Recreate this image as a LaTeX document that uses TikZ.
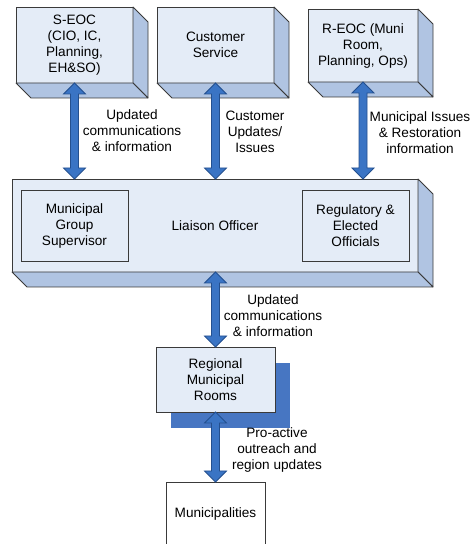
\documentclass[tikz,border=0pt]{standalone}
\usepackage{fontspec}
\setmainfont{Liberation Sans}
\usepackage{tikz}
\usepackage{xcolor}
\usetikzlibrary{calc,shadows}

\definecolor{faceblue}{HTML}{E4ECF7}
\definecolor{sideblue}{HTML}{B0C4E2}
\definecolor{edgegray}{HTML}{3A3A3A}
\definecolor{arrfill}{HTML}{3A74C4}
\definecolor{arrline}{HTML}{24508F}
\definecolor{shadeblue}{HTML}{4776C2}

\tikzset{
  cube/.style={draw=edgegray, line width=0.8pt, fill=faceblue, align=center, outer sep=0pt},
  cubeside/.style={draw=edgegray, line width=0.8pt, fill=sideblue, line join=round},
  inbox/.style={draw=edgegray, line width=0.8pt, align=center, outer sep=0pt},
  flowlabel/.style={align=center, inner sep=0pt},
  bigarrow/.style={draw=arrline, fill=arrfill, line width=0.8pt, line join=miter}
}

% two-headed block arrow, top point #1 down to bottom point #2
\newcommand{\twoway}[2]{%
  \filldraw[bigarrow] (#1) -- ++(11,-11) -- ++(-7,0) -- ($(#2)+(4,11)$) -- ++(7,0)
    -- (#2) -- ++(-11,11) -- ++(7,0) -- ($(#1)+(-4,-11)$) -- ++(-7,0) -- cycle;
}

\begin{document}
\begin{tikzpicture}[x=1pt, y=1pt, font=\fontsize{13.6}{16}\selectfont]
\useasboundingbox (0,0) rectangle (474,544);

% Top row of operation centres
\node[cube, minimum width=117, minimum height=76] (seoc) at (74.5,499)
  {S-EOC\\(CIO, IC,\\Planning,\\EH\&SO)};
\node[cube, minimum width=117, minimum height=76] (custsvc) at (215.5,499)
  {Customer\\Service};
\node[cube, minimum width=110, minimum height=73] (reoc) at (363,498.5)
  {R-EOC (Muni\\Room,\\Planning, Ops)};

% Liaison block with its two inner roles
\node[cube, minimum width=406, minimum height=93] (liaison) at (215,318.5) {};
\node (liaisonoff) at (215,318.5) {Liaison Officer};
\node[inbox, minimum width=107, minimum height=71] (mgs) at (74.5,318.5)
  {Municipal\\Group\\Supervisor};
\node[inbox, minimum width=107, minimum height=71] (regel) at (355.5,318.5)
  {Regulatory \&\\Elected\\Officials};

% Depth faces
\foreach \b in {seoc,custsvc,reoc,liaison} {
  \filldraw[cubeside] (\b.north east) -- ++(15,-15) -- ([shift={(15,-15)}]\b.south east)
    -- (\b.south east) -- cycle;
  \filldraw[cubeside] (\b.south west) -- ++(15,-15) -- ([shift={(15,-15)}]\b.south east)
    -- (\b.south east) -- cycle;
}

% Regional rooms and municipalities
\node[cube, minimum width=119, minimum height=65,
  general shadow={fill=shadeblue, shadow xshift=15pt, shadow yshift=-16pt}]
  (regional) at (215.5,164.5) {Regional\\Municipal\\Rooms};
\node[inbox, fill=white, minimum width=99, minimum height=64] (munis) at (215.5,30)
  {Municipalities};

% Arrows
\twoway{seoc.south}{seoc.south |- liaison.north}
\twoway{custsvc.south}{custsvc.south |- liaison.north}
\twoway{reoc.south}{reoc.south |- liaison.north}
\twoway{regional.north |- liaison.south}{regional.north}
\twoway{regional.south}{regional.south |- munis.north}

% Arrow labels
\node[flowlabel] (lblseoc) at (132,413) {Updated\\communications\\\& information};
\node[flowlabel] (lblcust) at (255,412) {Customer\\Updates/\\Issues};
\node[flowlabel] (lblreoc) at (420,411) {Municipal Issues\\\& Restoration\\information};
\node[flowlabel] (lblliaison) at (273,228) {Updated\\communications\\\& information};
\node[flowlabel] (lblregion) at (277,94) {Pro-active\\outreach and\\region updates};
\end{tikzpicture}
\end{document}
